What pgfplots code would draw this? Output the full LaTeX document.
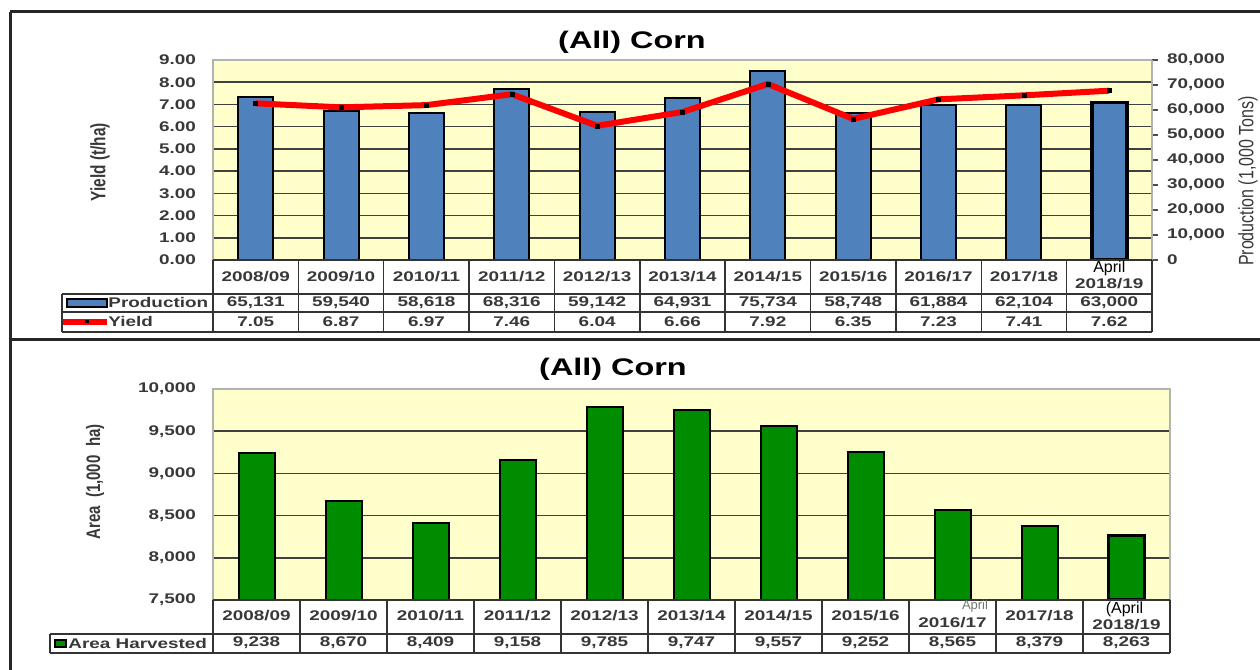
\documentclass[border=0pt]{standalone}
\usepackage{fontspec}
\setmainfont{Liberation Sans}[FakeStretch=1.35]
\newfontfamily\plainsans{Liberation Sans}
\usepackage{graphicx}
\usepackage{pgfplots}
\pgfplotsset{compat=1.18}
\definecolor{bgy}{HTML}{FFFFCC}
\definecolor{barblue}{HTML}{4F81BD}
\definecolor{bargreen}{HTML}{008C00}
\definecolor{txt}{HTML}{383838}
\newcommand{\tf}{\fontsize{7}{8}\selectfont\bfseries}
\begin{document}
\begin{tikzpicture}
\path[use as bounding box] (0,0) rectangle (630pt,335pt);
% ---------- top: yield base axis with background and grid
\begin{axis}[
  at={(106.5pt,205pt)}, anchor=south west, scale only axis,
  width=469.5pt, height=100pt,
  xmin=-0.5, xmax=10.5, ymin=0, ymax=9,
  axis background/.style={fill=bgy},
  axis line style={draw=gray!60, line width=0.8pt},
  xtick=\empty, ytick={0,1,...,9},
  ymajorgrids, grid style={draw=black!75, line width=0.8pt},
  major tick length=0pt,
  yticklabel style={font=\tf, text=txt, xshift=-5pt},
  /pgf/number format/.cd, fixed, fixed zerofill, precision=2, assume math mode=true,
]
\addplot[draw=none] coordinates {(0,0)};
\end{axis}
% ---------- top: production bars (right axis)
\begin{axis}[
  at={(106.5pt,205pt)}, anchor=south west, scale only axis,
  width=469.5pt, height=100pt,
  xmin=-0.5, xmax=10.5, ymin=0, ymax=80000,
  axis x line=none, axis y line*=right,
  axis line style={draw=gray!60, line width=0.8pt},
  ytick={0,10000,...,80000}, scaled y ticks=false,
  tick align=outside, major tick length=3pt, tick style={black!70, line width=0.6pt},
  yticklabel style={font=\tf, text=txt, anchor=west, xshift=1pt},
  ybar, bar width=17.5pt,
  /pgf/number format/.cd, fixed, 1000 sep={,}, assume math mode=true,
]
\addplot[fill=barblue, draw=black, line width=1pt, bar shift=0pt] coordinates {
 (0,65131) (1,59540) (2,58618) (3,68316) (4,59142) (5,64931) (6,75734) (7,58748) (8,61884) (9,62104)};
\addplot[fill=barblue, draw=black, line width=1.7pt, bar shift=0pt] coordinates {(10,63000)};
\end{axis}
% ---------- top: yield line
\begin{axis}[
  at={(106.5pt,205pt)}, anchor=south west, scale only axis,
  width=469.5pt, height=100pt,
  xmin=-0.5, xmax=10.5, ymin=0, ymax=9, hide axis,
]
\addplot[red, line width=3pt, mark=square*, mark size=1pt, mark options={fill=black, draw=black, line width=0.2pt}] coordinates {
 (0,7.05) (1,6.87) (2,6.97) (3,7.46) (4,6.04) (5,6.66) (6,7.92) (7,6.35) (8,7.23) (9,7.41) (10,7.62)};
\end{axis}
% ---------- bottom: area harvested
\begin{axis}[
  at={(106.5pt,35pt)}, anchor=south west, scale only axis,
  width=478.5pt, height=105.5pt,
  xmin=-0.5, xmax=10.5, ymin=7500, ymax=10000,
  axis background/.style={fill=bgy},
  axis line style={draw=gray!60, line width=0.8pt},
  xtick=\empty, ytick={7500,8000,...,10000}, scaled y ticks=false,
  ymajorgrids, grid style={draw=black!75, line width=0.8pt},
  major tick length=0pt,
  yticklabel style={font=\tf, text=txt, xshift=-5pt},
  ybar, bar width=18pt,
  /pgf/number format/.cd, fixed, 1000 sep={,}, assume math mode=true,
]
\addplot[fill=bargreen, draw=black, line width=1pt, bar shift=0pt] coordinates {
 (0,9238) (1,8670) (2,8409) (3,9158) (4,9785) (5,9747) (6,9557) (7,9252) (8,8565) (9,8379)};
\addplot[fill=bargreen, draw=black, line width=1.7pt, bar shift=0pt] coordinates {(10,8263)};
\end{axis}
% ---------- pixel-coordinate decorations
\begin{scope}[x=0.5pt, y=-0.5pt, yshift=335pt]
 % frames
 \draw[line width=1.5pt, black!85] (10,12) -- (1260,12);
 \draw[line width=1.5pt, black!85] (10,12) -- (10,670);
 \draw[line width=1.5pt, black!85] (10,340) -- (1260,340);
 % titles
 \node[font=\fontsize{12}{14}\selectfont\bfseries] at (632,42) {(All) Corn};
 \node[font=\fontsize{12}{14}\selectfont\bfseries] at (613,369) {(All) Corn};
 % axis titles
 \node[rotate=90, font=\plainsans\fontsize{7.7}{9}\selectfont\bfseries, text=txt] at (100,162) {\scalebox{1}[1.35]{Yield (t/ha)}};
 \node[rotate=90, font=\plainsans\fontsize{8}{9}\selectfont, text=txt] at (1248,181) {\scalebox{1}[1.3]{Production (1,000 Tons)}};
 \node[rotate=90, font=\plainsans\fontsize{7.5}{9}\selectfont\bfseries, text=txt] at (95,482) {\scalebox{1}[1.3]{Area~~(1,000~~ha)}};
 % top table grid
 \foreach \i in {0,...,11} \draw[line width=0.7pt, black!80] ({213+\i*85.364},260) -- ({213+\i*85.364},332);
 \draw[line width=0.7pt, black!80] (213,260) -- (1152,260);
 \foreach \yy in {294,312,332} \draw[line width=0.7pt, black!80] (62,\yy) -- (1152,\yy);
 \draw[line width=0.7pt, black!80] (62,294) -- (62,332);
 \foreach \t [count=\i from 0] in {2008/09,2009/10,2010/11,2011/12,2012/13,2013/14,2014/15,2015/16,2016/17,2017/18}
   \node[font=\tf, text=txt] at ({213+(\i+0.5)*85.364},277) {\t};
 \node[font=\plainsans\fontsize{8}{9}\selectfont] at ({213+10.5*85.364},268) {April};
 \node[font=\tf, text=txt] at ({213+10.5*85.364},284) {2018/19};
 \foreach \t [count=\i from 0] in {{65,131},{59,540},{58,618},{68,316},{59,142},{64,931},{75,734},{58,748},{61,884},{62,104},{63,000}}
   \node[font=\tf, text=txt] at ({213+(\i+0.5)*85.364},303) {\t};
 \foreach \t [count=\i from 0] in {7.05,6.87,6.97,7.46,6.04,6.66,7.92,6.35,7.23,7.41,7.62}
   \node[font=\tf, text=txt] at ({213+(\i+0.5)*85.364},322) {\t};
 % top legend keys
 \draw[fill=barblue, draw=black, line width=1pt] (67,299) rectangle (107,307);
 \node[font=\tf, text=txt, anchor=west, inner sep=0pt] at (108,302) {Production};
 \draw[red, line width=3pt] (63,322) -- (107,322);
 \fill[black] (85,320.5) rectangle (89,323.5);
 \node[font=\tf, text=txt, anchor=west, inner sep=0pt] at (108,321) {Yield};
 % bottom table grid
 \foreach \i in {0,...,11} \draw[line width=0.7pt, black!80] ({213+\i*87},600) -- ({213+\i*87},653);
 \draw[line width=0.7pt, black!80] (213,600) -- (1170,600);
 \foreach \yy in {634,653} \draw[line width=0.7pt, black!80] (50,\yy) -- (1170,\yy);
 \draw[line width=0.7pt, black!80] (50,634) -- (50,653);
 \foreach \t [count=\i from 0] in {2008/09,2009/10,2010/11,2011/12,2012/13,2013/14,2014/15,2015/16}
   \node[font=\tf, text=txt] at ({213+(\i+0.5)*87},616) {\t};
 \node[font=\tf, text=txt] at ({213+9.5*87},616) {2017/18};
 \node[font=\plainsans\fontsize{6.5}{7}\selectfont, text=black!55, inner sep=0pt] at (975,606) {April};
 \node[font=\tf, text=txt] at ({213+8.5*87},623) {2016/17};
 \node[font=\plainsans\fontsize{8}{9}\selectfont] at ({211+10.5*87},609) {(April};
 \node[font=\tf, text=txt] at ({213+10.5*87},625) {2018/19};
 \foreach \t [count=\i from 0] in {{9,238},{8,670},{8,409},{9,158},{9,785},{9,747},{9,557},{9,252},{8,565},{8,379},{8,263}}
   \node[font=\tf, text=txt] at ({213+(\i+0.5)*87},643) {\t};
 \draw[fill=bargreen, draw=black, line width=0.8pt] (55,640) rectangle (66,647);
 \node[font=\tf, text=txt, anchor=west, inner sep=0pt] at (68,643) {Area Harvested};
\end{scope}
\end{tikzpicture}
\end{document}
